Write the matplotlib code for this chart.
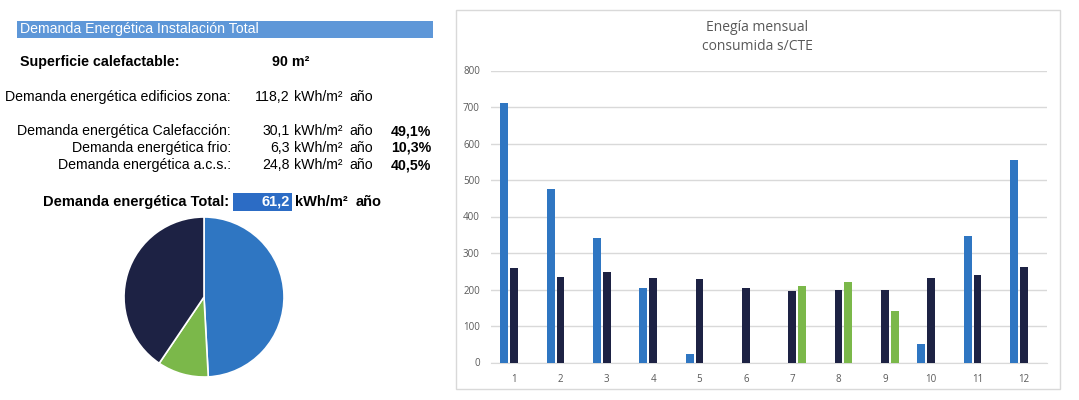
import matplotlib
matplotlib.use("Agg")
import matplotlib.pyplot as plt
import numpy as np
from matplotlib.patches import Rectangle

# ---- data ----
months = ["1", "2", "3", "4", "5", "6", "7", "8", "9", "10", "11", "12"]
calefaccion = [711, 475, 341, 204, 22, 0, 0, 0, 0, 50, 347, 556]
acs = [260, 233, 249, 231, 229, 203, 197, 200, 200, 231, 241, 261]
frio = [0, 0, 0, 0, 0, 0, 210, 220, 142, 0, 0, 0]
yticks = [0, 100, 200, 300, 400, 500, 600, 700, 800]

pie_labels = ["Calefacción", "Frío", "A.C.S."]
pie_values = [49.1, 10.3, 40.5]

title_chart = "Enegía mensual\nconsumida s/CTE"
header = "Demanda Energética Instalación Total"

C_BLUE = "#2f76c2"
C_NAVY = "#1d2244"
C_GREEN = "#7bb84a"

W, H = 1079, 400
fig = plt.figure(figsize=(W / 100, H / 100), dpi=100)
fig.patch.set_facecolor("white")

FONT = "Liberation Sans"


def fx(x):
    return x / W


def fy(y):
    return 1 - y / H


def txt(x, y, s, ha="left", weight="normal", size=10.2, color="black"):
    fig.text(fx(x), fy(y), s, ha=ha, va="center", fontsize=size,
             fontweight=weight, color=color, family=FONT, zorder=5)


# background axes for boxes
bg = fig.add_axes([0, 0, 1, 1], zorder=-5)
bg.set_xlim(0, W)
bg.set_ylim(H, 0)
bg.axis("off")
bg.add_patch(Rectangle((17, 21), 416, 17, facecolor="#5e97d8", edgecolor="none"))
bg.add_patch(Rectangle((233, 193), 59, 18, facecolor="#2c6cc5", edgecolor="none"))
bg.add_patch(Rectangle((456, 10), 604, 379, facecolor="white",
                       edgecolor="#d9d9d9", linewidth=1))

# ---- left panel ----
txt(20, 29.5, header, size=10.2, color="white")

txt(20, 62, "Superficie calefactable:", weight="bold", size=10.3)
txt(272, 62, "90 m²", weight="bold", size=10.3)

txt(231, 97, "Demanda energética edificios zona:", ha="right")
txt(290, 97, "118,2", ha="right")
txt(294, 97, "kWh/m²")
txt(349, 97, "año")

rows_y = [131, 148, 165]
row_labels = ["Demanda energética Calefacción:", "Demanda energética frio:",
              "Demanda energética a.c.s.:"]
row_vals = ["30,1", "6,3", "24,8"]
row_pct = ["49,1%", "10,3%", "40,5%"]
for yy, lab, v, p in zip(rows_y, row_labels, row_vals, row_pct):
    txt(231, yy, lab, ha="right")
    txt(290, yy, v, ha="right")
    txt(294, yy, "kWh/m²")
    txt(349, yy, "año")
    txt(431, yy, p, ha="right", weight="bold")

txt(229, 202, "Demanda energética Total:", ha="right", weight="bold", size=10.5)
txt(290, 202, "61,2", ha="right", weight="bold", size=10.5, color="white")
txt(295, 202, "kWh/m²", weight="bold", size=10.5)
txt(356, 202, "año", weight="bold", size=10.5)

# ---- pie ----
axp = fig.add_axes([fx(120), fy(381), fx(168), 168 / H])
axp.pie(pie_values, colors=[C_BLUE, C_GREEN, C_NAVY], startangle=90,
        counterclock=False, radius=1,
        wedgeprops=dict(edgecolor="white", linewidth=1.2))
axp.set_xlim(-1.05, 1.05)
axp.set_ylim(-1.05, 1.05)
axp.set_aspect("equal")

# ---- bar chart ----
ax = fig.add_axes([fx(491), fy(362.5), fx(1047) - fx(491), (362.5 - 70.5) / H])
x = np.arange(1, len(months) + 1)
bw = 0.172
pitch = 0.215
ax.bar(x - pitch, calefaccion, width=bw, color=C_BLUE, zorder=3)
ax.bar(x, acs, width=bw, color=C_NAVY, zorder=3)
ax.bar(x + pitch, frio, width=bw, color=C_GREEN, zorder=3)
ax.set_xlim(0.5, 12.5)
ax.set_ylim(0, 800)
ax.set_yticks(yticks)
ax.set_xticks(x)
ax.set_xticklabels(months)
ax.yaxis.grid(True, color="#d9d9d9", linewidth=1, zorder=0)
ax.set_axisbelow(True)
for s in ["top", "right", "left"]:
    ax.spines[s].set_visible(False)
ax.spines["bottom"].set_color("#d9d9d9")
ax.tick_params(length=0, labelsize=7, labelcolor="#595959", pad=8)
for lab in ax.get_xticklabels() + ax.get_yticklabels():
    lab.set_family("Open Sans")
ax.set_facecolor("none")

fig.text(fx(757), fy(37), title_chart, ha="center", va="center", fontsize=10,
         color="#595959", family="Open Sans", linespacing=1.35)

fig.savefig("out.png", dpi=100)
